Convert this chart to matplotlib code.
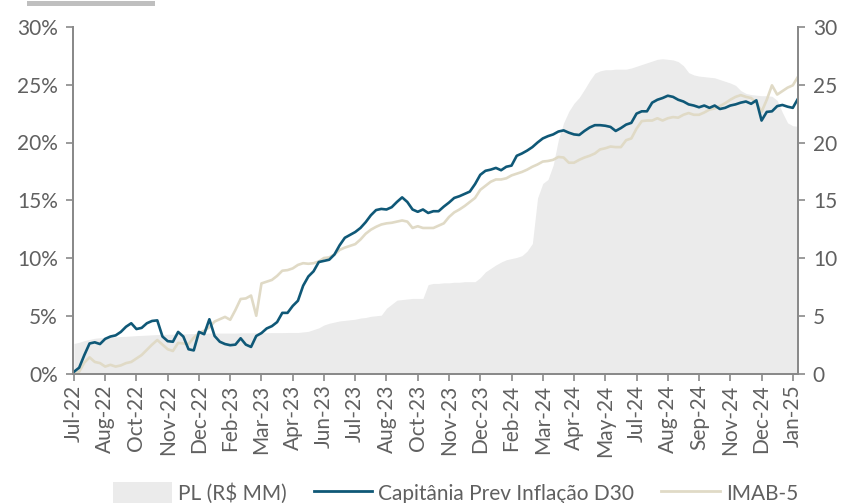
import numpy as np
import matplotlib.pyplot as plt
from matplotlib.patches import Rectangle, Patch
from matplotlib.lines import Line2D

plt.rcParams['font.family'] = ['Lato', 'DejaVu Sans']

tick_labels = ["Jul-22", "Aug-22", "Oct-22", "Nov-22", "Dec-22", "Feb-23", "Mar-23", "Apr-23",
               "Jun-23", "Jul-23", "Aug-23", "Oct-23", "Nov-23", "Dec-23", "Feb-24", "Mar-24",
               "Apr-24", "May-24", "Jul-24", "Aug-24", "Sep-24", "Nov-24", "Dec-24", "Jan-25"]

# samples per tick interval (6 readings between two labels)
per_tick = 6

# Capitania Prev Inflacao D30, % acumulado
capitania = [0.15, 0.5, 1.6, 2.6, 2.7, 2.55, 3.0, 3.2, 3.3, 3.6,
             4.05, 4.35, 3.85, 3.95, 4.35, 4.55, 4.6, 3.2, 2.8, 2.75,
             3.6, 3.2, 2.1, 2.0, 3.6, 3.4, 4.7, 3.25, 2.75, 2.55,
             2.45, 2.5, 3.05, 2.5, 2.3, 3.25, 3.5, 3.9, 4.1, 4.45,
             5.25, 5.25, 5.85, 6.3, 7.6, 8.4, 8.85, 9.65, 9.75, 9.85,
             10.3, 11.1, 11.75, 12.0, 12.25, 12.6, 13.1, 13.7, 14.15, 14.25,
             14.2, 14.4, 14.85, 15.25, 14.85, 14.2, 14.0, 14.2, 13.9, 14.05,
             14.05, 14.45, 14.8, 15.2, 15.35, 15.55, 15.75, 16.4, 17.2, 17.55,
             17.65, 17.8, 17.6, 17.9, 18.0, 18.85, 19.05, 19.3, 19.6, 20.0,
             20.35, 20.55, 20.7, 20.95, 21.05, 20.85, 20.7, 20.65, 21.0, 21.3,
             21.5, 21.5, 21.45, 21.35, 21.0, 21.25, 21.55, 21.7, 22.5, 22.7,
             22.7, 23.45, 23.7, 23.85, 24.05, 23.95, 23.7, 23.55, 23.3, 23.2,
             23.05, 23.2, 23.0, 23.2, 22.9, 23.0, 23.2, 23.3, 23.45, 23.55,
             23.35, 23.65, 21.9, 22.65, 22.7, 23.15, 23.25, 23.1, 23.0, 23.8]

# IMAB-5, % acumulado
imab5 = [0.0, 0.15, 0.95, 1.4, 1.0, 0.9, 0.6, 0.75, 0.6, 0.7,
         0.9, 1.0, 1.3, 1.6, 2.05, 2.5, 2.9, 2.5, 2.1, 1.95,
         2.65, 2.6, 2.55, 3.1, 3.5, 3.7, 4.0, 4.5, 4.7, 4.9,
         4.65, 5.5, 6.45, 6.5, 6.75, 5.0, 7.8, 7.95, 8.1, 8.45,
         8.9, 8.95, 9.1, 9.4, 9.55, 9.5, 9.55, 9.7, 10.0, 10.05,
         10.3, 10.7, 10.9, 11.05, 11.2, 11.6, 12.1, 12.45, 12.7, 12.9,
         13.0, 13.05, 13.15, 13.25, 13.15, 12.6, 12.75, 12.6, 12.6, 12.6,
         12.8, 13.0, 13.55, 13.95, 14.2, 14.5, 14.85, 15.2, 15.9, 16.25,
         16.6, 16.8, 16.8, 16.9, 17.15, 17.3, 17.45, 17.65, 17.9, 18.1,
         18.35, 18.4, 18.5, 18.75, 18.7, 18.25, 18.25, 18.5, 18.7, 18.85,
         19.05, 19.4, 19.5, 19.65, 19.6, 19.6, 20.2, 20.35, 21.2, 21.85,
         21.9, 21.9, 22.1, 21.9, 22.1, 22.2, 22.15, 22.4, 22.55, 22.4,
         22.4, 22.6, 22.85, 22.95, 23.15, 23.4, 23.7, 23.95, 24.1, 23.95,
         23.85, 23.45, 22.65, 23.7, 24.95, 24.15, 24.45, 24.75, 24.95, 25.7]

# PL (R$ MM), eixo direito
pl = [2.6, 2.7, 2.85, 2.95, 3.05, 3.1, 3.12, 3.15, 3.18, 3.2,
      3.22, 3.25, 3.28, 3.3, 3.32, 3.35, 3.37, 3.38, 3.4, 3.4,
      3.42, 3.43, 3.45, 3.46, 3.48, 3.5, 3.5, 3.5, 3.5, 3.5,
      3.5, 3.5, 3.52, 3.52, 3.52, 3.53, 3.53, 3.53, 3.54, 3.54,
      3.54, 3.55, 3.55, 3.55, 3.6, 3.65, 3.8, 3.95, 4.2, 4.35,
      4.45, 4.55, 4.6, 4.65, 4.7, 4.8, 4.85, 4.95, 5.0, 5.05,
      5.65, 6.0, 6.35, 6.4, 6.45, 6.5, 6.5, 6.5, 7.7, 7.8,
      7.8, 7.85, 7.85, 7.9, 7.9, 7.95, 7.95, 7.95, 8.3, 8.8,
      9.1, 9.4, 9.65, 9.85, 9.95, 10.05, 10.2, 10.6, 11.25, 15.2,
      16.45, 16.8, 18.05, 20.25, 21.7, 22.7, 23.4, 23.9, 24.6, 25.35,
      26.0, 26.2, 26.3, 26.3, 26.35, 26.35, 26.35, 26.45, 26.6, 26.75,
      26.9, 27.05, 27.2, 27.25, 27.2, 27.15, 27.0, 26.65, 26.05, 25.85,
      25.75, 25.7, 25.65, 25.6, 25.45, 25.3, 25.15, 24.95, 24.5, 24.25,
      24.15, 24.1, 24.05, 24.05, 24.0, 23.65, 22.6, 21.7, 21.45, 21.4]

navy = "#0f5877"
beige = "#e0dac6"
area_col = "#ebebeb"
axis_col = "#8a8a8a"
text_col = "#606060"
fs = 15

x = np.arange(len(capitania)) / per_tick

fig = plt.figure(figsize=(8.44, 5.03), dpi=100)
ax = fig.add_axes([73 / 844, 1 - 373.5 / 503, (797.5 - 73) / 844, (373.5 - 27) / 503])
ax2 = ax.twinx()

ax2.fill_between(x, 0, pl, color=area_col, linewidth=0)
ax.plot(x, imab5, color=beige, linewidth=1.9, solid_joinstyle='round')
ax.plot(x, capitania, color=navy, linewidth=1.9, solid_joinstyle='round')

ax.set_zorder(ax2.get_zorder() + 1)
ax.patch.set_visible(False)

for a in (ax, ax2):
    a.set_ylim(0, 30)
    a.set_xlim(-0.03, 23.15)
    a.spines['top'].set_visible(False)
    for s in ('left', 'right', 'bottom'):
        a.spines[s].set_color(axis_col)
        a.spines[s].set_linewidth(1.4)
    a.tick_params(colors=axis_col, width=1.2, length=5, labelcolor=text_col, labelsize=fs)

ax.set_yticks(np.arange(0, 31, 5))
ax.set_yticklabels([f"{v}%" for v in range(0, 31, 5)])
ax2.set_yticks(np.arange(0, 31, 5))
ax2.set_yticklabels([str(v) for v in range(0, 31, 5)])
ax.set_xticks(np.arange(len(tick_labels)))
ax.set_xticklabels(tick_labels, rotation=90)
ax.tick_params(axis='x', pad=3)
ax.tick_params(axis='y', pad=6)
ax2.tick_params(axis='y', pad=6)

handles = [Patch(facecolor=area_col, edgecolor='none', label="PL (R$ MM)"),
           Line2D([], [], color=navy, linewidth=2, label="Capitânia Prev Inflação D30"),
           Line2D([], [], color=beige, linewidth=2, label="IMAB-5")]
leg = fig.legend(handles=handles, loc='lower center', bbox_to_anchor=(0.54, -0.04), ncol=3,
                 frameon=False, fontsize=fs, handlelength=2.8, handleheight=1.3,
                 columnspacing=1.3, handletextpad=0.3)
for t in leg.get_texts():
    t.set_color(text_col)

fig.patches.append(Rectangle((27 / 844, 1 - 6 / 503), 128 / 844, 5 / 503,
                             transform=fig.transFigure, facecolor="#bfbfbf", edgecolor='none'))

fig.savefig("out.png", dpi=100)
